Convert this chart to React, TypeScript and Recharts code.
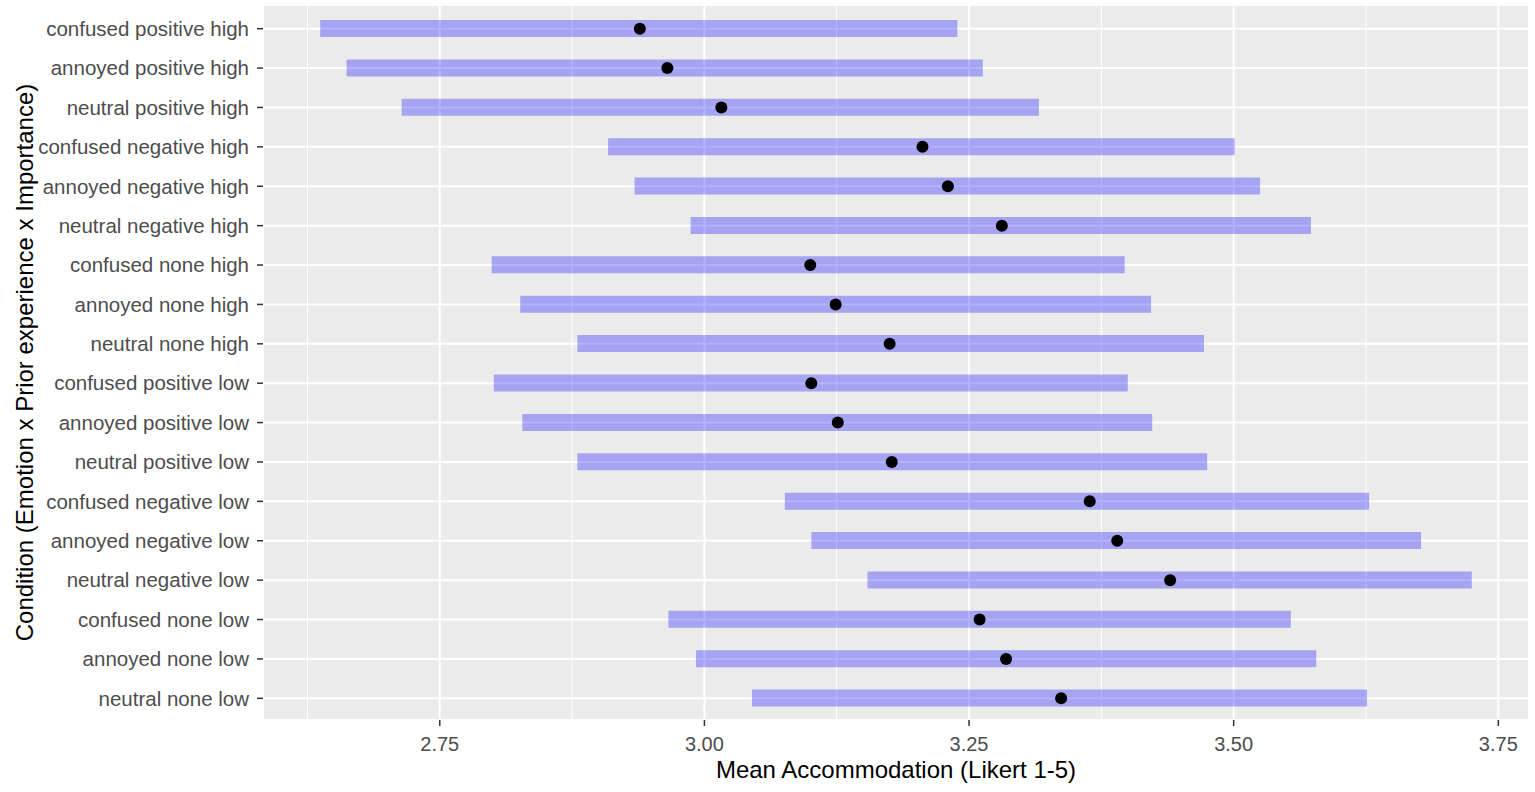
import { ComposedChart, Bar, Line, XAxis, YAxis, CartesianGrid } from 'recharts';

const categories = [
  'confused positive high',
  'annoyed positive high',
  'neutral positive high',
  'confused negative high',
  'annoyed negative high',
  'neutral negative high',
  'confused none high',
  'annoyed none high',
  'neutral none high',
  'confused positive low',
  'annoyed positive low',
  'neutral positive low',
  'confused negative low',
  'annoyed negative low',
  'neutral negative low',
  'confused none low',
  'annoyed none low',
  'neutral none low',
];

const lows = [
  2.637, 2.662, 2.714, 2.909, 2.934, 2.987, 2.799, 2.826, 2.880,
  2.801, 2.828, 2.880, 3.076, 3.101, 3.154, 2.966, 2.992, 3.045,
];
const highs = [
  3.239, 3.263, 3.316, 3.501, 3.525, 3.573, 3.397, 3.422, 3.472,
  3.400, 3.423, 3.475, 3.628, 3.677, 3.725, 3.554, 3.578, 3.626,
];
const means = [
  2.939, 2.965, 3.016, 3.206, 3.230, 3.281, 3.100, 3.124, 3.175,
  3.101, 3.126, 3.177, 3.364, 3.390, 3.440, 3.260, 3.285, 3.337,
];

const majorTicks = [2.75, 3.0, 3.25, 3.5, 3.75];
const minorTicks = [2.625, 2.875, 3.125, 3.375, 3.625];

const data = categories.map((name, i) => ({
  name,
  range: [lows[i], highs[i]],
  mean: means[i],
}));

const font = '"Liberation Sans", Arial, sans-serif';

const XTitle = (props: any) => {
  const { viewBox } = props;
  return (
    <text
      x={viewBox.x + viewBox.width / 2}
      y={viewBox.y + 58}
      textAnchor="middle"
      fontSize={24}
      fontFamily={font}
      fill="#000"
    >
      Mean Accommodation (Likert 1-5)
    </text>
  );
};

const YTitle = (props: any) => {
  const { viewBox } = props;
  const cx = 33;
  const cy = viewBox.y + viewBox.height / 2;
  return (
    <text
      x={cx}
      y={cy}
      textAnchor="middle"
      fontSize={24}
      fontFamily={font}
      fill="#000"
      transform={`rotate(-90, ${cx}, ${cy})`}
    >
      Condition (Emotion x Prior experience x Importance)
    </text>
  );
};

export default function App() {
  return (
    <div style={{ position: 'absolute', left: 0, top: 0, background: '#fff' }}>
      <ComposedChart
        width={1535}
        height={792}
        data={data}
        layout="vertical"
        margin={{ top: 5, right: 6, bottom: 0, left: 0 }}
        style={{ fontFamily: font }}
      >
        <CartesianGrid fill="#EBEBEB" fillOpacity={1} stroke="#FFFFFF" strokeWidth={2} />
        <CartesianGrid horizontal={false} verticalValues={minorTicks} stroke="#FFFFFF" strokeWidth={1} />
        <XAxis
          type="number"
          domain={[2.583, 3.779]}
          ticks={majorTicks}
          tickFormatter={(v: number) => v.toFixed(2)}
          allowDataOverflow
          height={72}
          axisLine={false}
          tickLine={{ stroke: '#333333', strokeWidth: 1.5 }}
          tickSize={6}
          tickMargin={11}
          tick={{ fill: '#4D4D4D', fontSize: 20, fontFamily: font }}
          label={<XTitle />}
        />
        <YAxis
          type="category"
          dataKey="name"
          width={263}
          padding={{ top: 4, bottom: 2 }}
          axisLine={false}
          tickLine={{ stroke: '#333333', strokeWidth: 1.5 }}
          tickSize={6}
          tickMargin={8}
          interval={0}
          tick={{ fill: '#4D4D4D', fontSize: 20.5, fontFamily: font }}
          label={<YTitle />}
        />
        <Bar dataKey="range" fill="#0000FF" fillOpacity={0.3} barSize={17} isAnimationActive={false} />
        <Line
          dataKey="mean"
          stroke="none"
          dot={{ r: 6, fill: '#000000', stroke: 'none' }}
          activeDot={false}
          isAnimationActive={false}
        />
      </ComposedChart>
    </div>
  );
}
